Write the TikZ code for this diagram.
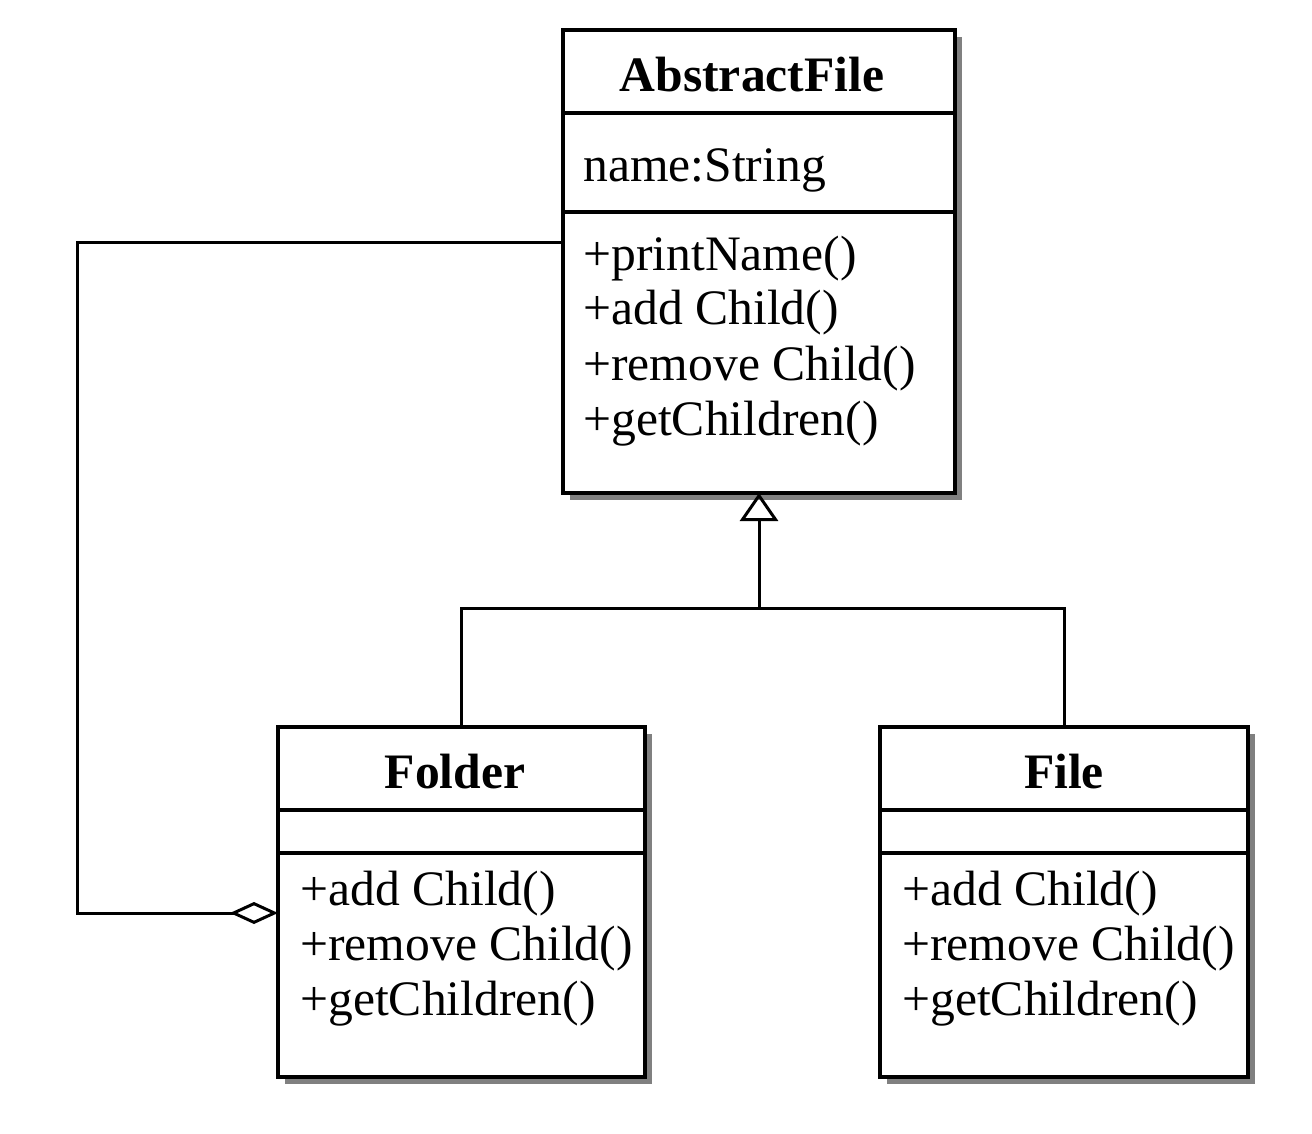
\documentclass[tikz,border=0pt]{standalone}
\usepackage{fontspec}
\setmainfont{Liberation Serif}
\usetikzlibrary{arrows.meta,shadows,calc}
\begin{document}
\begin{tikzpicture}[x=0.5pt,y=-0.5pt,
  classbox/.style={draw=black,line width=1.7pt,fill=white,rectangle,inner sep=0pt,outer sep=0pt,anchor=north west,
    drop shadow={shadow xshift=3.5pt,shadow yshift=-3.5pt,fill=black!50,opacity=1}},
  divider/.style={line width=1.7pt},
  titletext/.style={font=\fontsize{24.8}{27.5}\selectfont\bfseries,anchor=base,inner sep=0pt},
  bodytext/.style={font=\fontsize{24.8}{27.5}\selectfont,anchor=base west,align=left,inner sep=0pt},
  conn/.style={line width=1.5pt},
  inherit/.style={conn,-{Triangle[open,length=14pt,width=19pt,line width=1.5pt]}},
  aggr/.style={conn,{Diamond[open,length=24pt,width=11pt,line width=1.5pt]}-}
]
\useasboundingbox[fill=white] (0,0) rectangle (1312,1134);

% AbstractFile
\node[classbox,minimum width=196pt,minimum height=231.5pt] (af) at (563,30) {};
\draw[divider] (563,113) -- (955,113);
\draw[divider] (563,212) -- (955,212);
\node[titletext] (aft) at (752,92) {AbstractFile};
\node[bodytext] (afa) at (583,182) {name:String};
\node[bodytext] (afm) at (583,435) {+printName()\\+add Child()\\+remove Child()\\+getChildren()};

% Folder
\node[classbox,minimum width=183.5pt,minimum height=175pt] (folder) at (278,727) {};
\draw[divider] (278,810) -- (645,810);
\draw[divider] (278,853) -- (645,853);
\node[titletext] (fot) at (455,788) {Folder};
\node[bodytext] (fom) at (300,1015) {+add Child()\\+remove Child()\\+getChildren()};

% File
\node[classbox,minimum width=184pt,minimum height=175pt] (file) at (880,727) {};
\draw[divider] (880,810) -- (1248,810);
\draw[divider] (880,853) -- (1248,853);
\node[titletext] (fit) at (1064,788) {File};
\node[bodytext] (fim) at (902,1015) {+add Child()\\+remove Child()\\+getChildren()};

% Inheritance
\coordinate (junc) at (af.south |- 0,608);
\draw[conn] (folder.north) |- (junc) -| (file.north);
\draw[inherit] (junc) -- (af.south);

% Aggregation
\coordinate (bend) at (77,243);
\draw[aggr] (folder.west |- 0,913) -| (bend) -- (af.west |- bend);
\end{tikzpicture}
\end{document}
